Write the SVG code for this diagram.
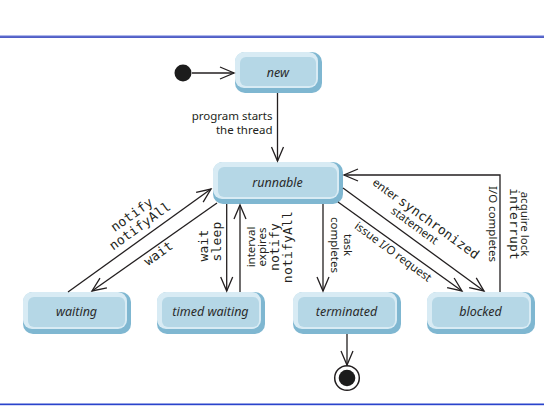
<svg xmlns="http://www.w3.org/2000/svg" width="544" height="411" viewBox="0 0 544 411">
<defs>
<style>
.sh{fill:#7fb7d1}
.hi{fill:#d8ebf4}
.fc{fill:#b5d7e6}
.nt{font-family:"Noto Sans","Open Sans",sans-serif;font-style:italic;font-size:12.5px;fill:#2a2a2a;text-anchor:middle}
.lb{font-family:"Noto Sans","Open Sans",sans-serif;font-size:11.5px;fill:#231f20}
.mo{font-family:"DejaVu Sans Mono","Liberation Mono",monospace;font-size:13px;letter-spacing:0.2px;fill:#231f20}
.ln{fill:none;stroke:#231f20;stroke-width:1.3}
.ar{marker-end:url(#arr)}
</style>
<marker id="arr" markerUnits="userSpaceOnUse" markerWidth="18" markerHeight="16" refX="14" refY="6" orient="auto" overflow="visible">
<path d="M0,0 L14,6 L0,12" fill="none" stroke="#231f20" stroke-width="1.3"/>
</marker>
</defs>
<rect x="0" y="35.3" width="544" height="1" fill="#8d9ae3"/>
<rect x="0" y="36.3" width="544" height="1.5" fill="#2537b8"/>
<rect x="0" y="403.5" width="544" height="1.7" fill="#2a44cc"/>

<g id="initial"><circle cx="183" cy="73" r="8.5" fill="#1c1c1c"/></g>
<g id="final"><circle cx="347" cy="378" r="12.3" fill="#fff" stroke="#231f20" stroke-width="1.5"/><circle cx="347" cy="378" r="8.3" fill="#1c1c1c"/></g>

<g id="node-new"><rect class="sh" x="235" y="52" width="87" height="41" rx="10"/><rect class="hi" x="235" y="52" width="83" height="36" rx="9"/><rect class="fc" x="240" y="57" width="76" height="29" rx="6"/><text class="nt" x="278" y="76.5">new</text></g>
<g id="node-runnable"><rect class="sh" x="213" y="162" width="130" height="42" rx="10"/><rect class="hi" x="213" y="162" width="126" height="37" rx="9"/><rect class="fc" x="218" y="167" width="119" height="30" rx="6"/><text class="nt" x="277.5" y="187">runnable</text></g>
<g id="node-waiting"><rect class="sh" x="23" y="292" width="108" height="42" rx="10"/><rect class="hi" x="23" y="292" width="104" height="37" rx="9"/><rect class="fc" x="28" y="297" width="97" height="30" rx="6"/><text class="nt" x="76.5" y="315.5">waiting</text></g>
<g id="node-timed-waiting"><rect class="sh" x="157" y="292" width="108" height="42" rx="10"/><rect class="hi" x="157" y="292" width="104" height="37" rx="9"/><rect class="fc" x="162" y="297" width="97" height="30" rx="6"/><text class="nt" x="210.5" y="315.5">timed waiting</text></g>
<g id="node-terminated"><rect class="sh" x="293" y="292" width="108" height="42" rx="10"/><rect class="hi" x="293" y="292" width="104" height="37" rx="9"/><rect class="fc" x="298" y="297" width="97" height="30" rx="6"/><text class="nt" x="346.5" y="315.5">terminated</text></g>
<g id="node-blocked"><rect class="sh" x="427" y="292" width="108" height="42" rx="10"/><rect class="hi" x="427" y="292" width="104" height="37" rx="9"/><rect class="fc" x="432" y="297" width="97" height="30" rx="6"/><text class="nt" x="480.5" y="315.5">blocked</text></g>

<g id="connectors">
<line class="ln ar" x1="192" y1="73" x2="234" y2="73"/>
<line class="ln ar" x1="277.5" y1="93" x2="277.5" y2="161"/>
<line class="ln ar" x1="68" y1="292" x2="211" y2="189"/>
<line class="ln ar" x1="217" y1="203" x2="92" y2="291"/>
<line class="ln ar" x1="226.7" y1="204" x2="226.7" y2="291"/>
<line class="ln ar" x1="240" y1="292" x2="240" y2="205"/>
<line class="ln ar" x1="323" y1="204" x2="323" y2="291"/>
<line class="ln ar" x1="343" y1="188" x2="484" y2="291"/>
<line class="ln ar" x1="338" y1="202" x2="462" y2="291"/>
<polyline class="ln ar" points="500,292 500,175 344,175"/>
<line class="ln ar" x1="347" y1="334" x2="347" y2="365"/>
</g>

<g id="labels">
<text class="lb" x="272.5" y="120" text-anchor="end">program starts</text>
<text class="lb" x="272.5" y="133.5" text-anchor="end">the thread</text>
<g transform="translate(68,292) rotate(-35.8)">
<text class="mo" x="97" y="-21" text-anchor="middle">notify</text>
<text class="mo" x="97" y="-7" text-anchor="middle">notifyAll</text>
<text class="mo" x="96" y="26" text-anchor="middle">wait</text>
</g>
<text class="mo" transform="translate(208,261.5) rotate(-90)">wait</text>
<text class="mo" transform="translate(220.5,261.5) rotate(-90)">sleep</text>
<text class="lb" transform="translate(255,247) rotate(-90)" text-anchor="middle">interval</text>
<text class="lb" transform="translate(265.5,247) rotate(-90)" text-anchor="middle">expires</text>
<text class="mo" transform="translate(279,247) rotate(-90)" text-anchor="middle">notify</text>
<text class="mo" transform="translate(292,247) rotate(-90)" text-anchor="middle">notifyAll</text>
<text class="lb" transform="translate(343.5,245) rotate(90)" text-anchor="middle">task</text>
<text class="lb" transform="translate(331,245) rotate(90)" text-anchor="middle">completes</text>
<g transform="translate(343,188) rotate(36.1)">
<text x="85" y="-20" text-anchor="middle"><tspan class="lb">enter </tspan><tspan class="mo">synchronized</tspan></text>
<text class="lb" x="80" y="-8" text-anchor="middle">statement</text>
</g>
<g transform="translate(338,202) rotate(36.3)">
<text class="lb" x="74" y="11.5" text-anchor="middle">issue I/O request</text>
</g>
<text class="lb" transform="translate(488.5,224) rotate(90)" text-anchor="middle">I/O completes</text>
<text class="mo" transform="translate(509.5,224) rotate(90)" text-anchor="middle">interrupt</text>
<text class="lb" transform="translate(520.5,224) rotate(90)" text-anchor="middle">acquire lock</text>
</g>
</svg>
